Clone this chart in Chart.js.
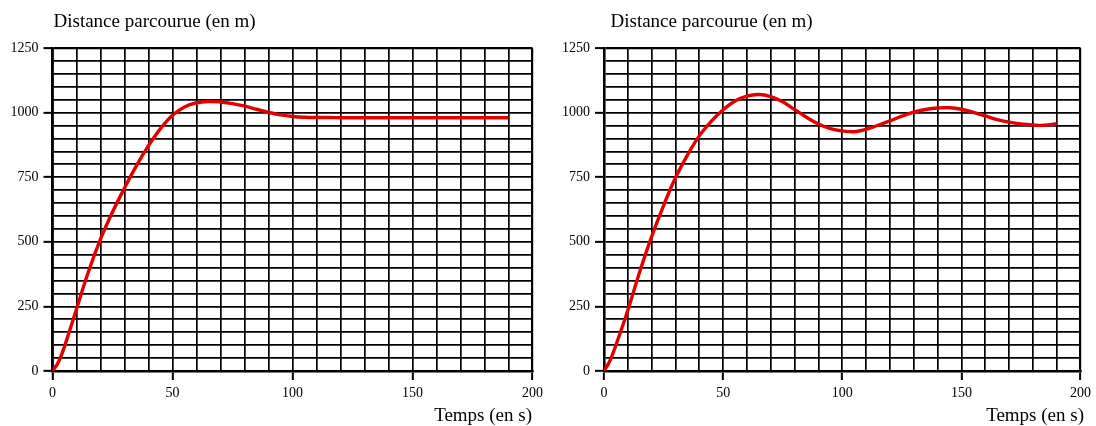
<!DOCTYPE html>
<html>
<head>
<meta charset="utf-8">
<script src="https://cdn.jsdelivr.net/npm/chart.js@4.4.1/dist/chart.umd.min.js"></script>
<style>
  html, body { margin: 0; padding: 0; background: #fff; }
  body { width: 1096px; height: 426px; position: relative; overflow: hidden; }
  .box { position: absolute; top: 0; width: 548px; height: 426px; }
</style>
</head>
<body>
<div class="box" style="left:0"><canvas id="c1"></canvas></div>
<div class="box" style="left:548px"><canvas id="c2"></canvas></div>
<script>
// ---- data ----
const yTitle = "Distance parcourue (en m)";
const xTitle = "Temps (en s)";
const times = [0, 2.5, 5, 10, 15, 20, 25, 30, 35, 40, 45, 50, 55, 60, 65, 70, 75, 80, 85, 90, 95, 100,
  105, 110, 115, 120, 125, 130, 135, 140, 145, 150, 155, 160, 165, 170, 175, 180, 185, 190];
const distanceLeft = [0, 35, 95, 240, 385, 510, 615, 708, 795, 872, 938, 990, 1022, 1038, 1043, 1041, 1035, 1025, 1013, 1001, 991, 985,
  982, 981, 981, 980, 980, 980, 980, 980, 980, 980, 980, 980, 980, 980, 980, 980, 980, 980];
const distanceRight = [0, 40, 100, 235, 384, 520, 640, 748, 835, 910, 966, 1011, 1045, 1064, 1070, 1062, 1042, 1012, 982, 956, 938, 929,
  926, 935, 951, 968, 986, 1002, 1012, 1018, 1019, 1013, 1001, 987, 973, 963, 956, 952, 951, 957];
const xTicks = [0, 50, 100, 150, 200];
const yTicks = [0, 250, 500, 750, 1000, 1250];

const FONT = "'Liberation Serif', 'Times New Roman', serif";

function textPlugin(titleX, xTitleRight) {
  return {
    id: 'texts',
    afterDraw(chart) {
      const c = chart.ctx;
      c.save();
      c.fillStyle = '#000';
      c.font = "19px " + FONT;
      c.textBaseline = 'alphabetic';
      c.textAlign = 'left';
      c.fillText(yTitle, titleX, 26.5);
      c.textAlign = 'right';
      c.fillText(xTitle, xTitleRight, 420.5);
      c.restore();
    }
  };
}

function makeChart(id, values, yAxisWidth, padRight, titleX, xTitleRight) {
  const pts = times.map((t, i) => ({ x: t, y: values[i] }));
  return new Chart(document.getElementById(id), {
    type: 'line',
    data: {
      datasets: [{
        data: pts,
        borderColor: 'rgb(228,0,0)',
        borderWidth: 3.4,
        pointRadius: 0,
        tension: 0.4,
        fill: false
      }]
    },
    options: {
      responsive: true,
      maintainAspectRatio: false,
      animation: false,
      events: [],
      layout: { padding: { left: 0, right: padRight, top: 48, bottom: 0 } },
      plugins: { legend: { display: false }, tooltip: { enabled: false }, title: { display: false } },
      scales: {
        x: {
          type: 'linear',
          min: 0, max: 200,
          afterFit(s) { s.height = 55; },
          afterBuildTicks(s) {
            const arr = [];
            for (let v = 0; v <= 200; v += 10) arr.push({ value: v });
            s.ticks = arr;
          },
          border: { display: true, color: '#000', width: 2.6 },
          grid: {
            color: '#000',
            lineWidth: (ctx) => (ctx.tick && ctx.tick.value === 200 ? 2.2 : 1.7),
            tickLength: 9,
            tickColor: (ctx) => (ctx.tick && xTicks.includes(ctx.tick.value) ? '#000' : 'rgba(0,0,0,0)'),
            tickWidth: 2
          },
          ticks: {
            autoSkip: false,
            maxRotation: 0,
            color: '#000',
            padding: 5,
            font: { family: FONT, size: 14 },
            callback: (v) => (xTicks.includes(v) ? String(v) : '')
          }
        },
        y: {
          type: 'linear',
          min: 0, max: 1250,
          afterFit(s) { s.width = yAxisWidth; },
          afterBuildTicks(s) {
            const arr = [];
            for (let v = 0; v <= 1250; v += 50) arr.push({ value: v });
            s.ticks = arr;
          },
          border: { display: true, color: '#000', width: 2.6 },
          grid: {
            color: '#000',
            lineWidth: (ctx) => (ctx.tick && ctx.tick.value === 1250 ? 2.2 : 1.7),
            tickLength: 9,
            tickColor: (ctx) => (ctx.tick && yTicks.includes(ctx.tick.value) ? '#000' : 'rgba(0,0,0,0)'),
            tickWidth: 2
          },
          ticks: {
            autoSkip: false,
            color: '#000',
            padding: 5,
            font: { family: FONT, size: 14 },
            callback: (v) => (yTicks.includes(v) ? String(v) : '')
          }
        }
      }
    },
    plugins: [textPlugin(titleX, xTitleRight)]
  });
}

makeChart('c1', distanceLeft, 52.5, 15, 53.5, 532);
makeChart('c2', distanceRight, 56, 12.5, 62.5, 536);
</script>
</body>
</html>
